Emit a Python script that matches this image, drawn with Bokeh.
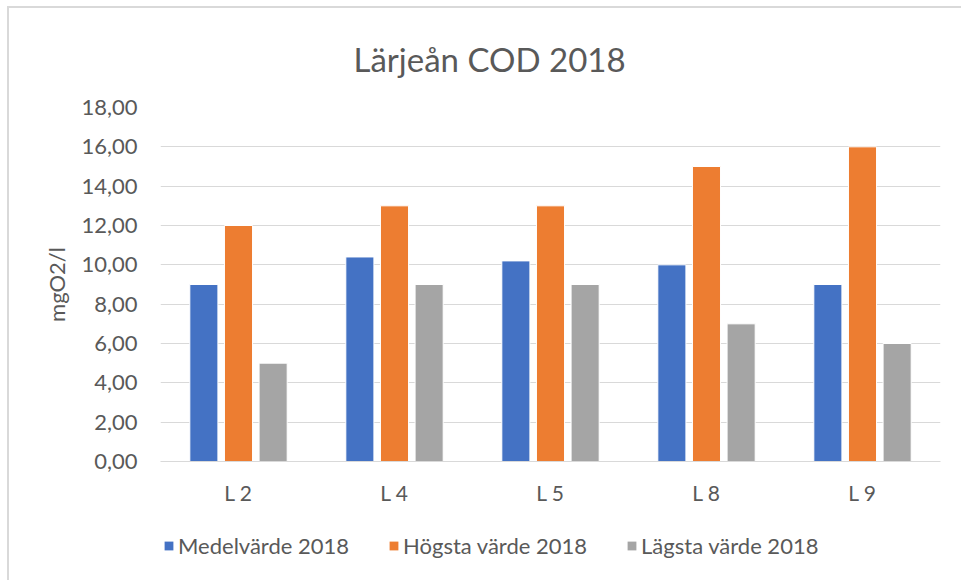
from bokeh.plotting import figure
from bokeh.layouts import column
from bokeh.models import FactorRange, Range1d, Legend, LegendItem, Title, CustomJSTickFormatter, ColumnDataSource
from bokeh.transform import dodge
from bokeh.embed import file_html
from bokeh.resources import INLINE

categories = ["L 2", "L 4", "L 5", "L 8", "L 9"]
medel = [9.0, 10.4, 10.2, 10.0, 9.0]
hogsta = [12.0, 13.0, 13.0, 15.0, 16.0]
lagsta = [5.0, 9.0, 9.0, 7.0, 6.0]
series_names = ["Medelvärde 2018", "Högsta värde 2018", "Lägsta värde 2018"]
colors = ["#4472C4", "#ED7D31", "#A5A5A5"]
title_text = "Lärjeån COD 2018"
y_label = "mgO2/l"

FONT = "Lato"
TXT = "#595959"
BORDER = "#d9d9d9"

src = ColumnDataSource(dict(cat=categories, medel=medel, hogsta=hogsta, lagsta=lagsta))

p = figure(width=961, height=520, x_range=FactorRange(factors=categories),
           y_range=Range1d(0, 18), output_backend="svg", toolbar_location=None,
           min_border_left=160, min_border_right=21, min_border_top=107, min_border_bottom=59)
p.outline_line_color = None
p.border_fill_color = None
p.background_fill_color = "white"
p.styles = {
    "background": f"linear-gradient({BORDER}, {BORDER}) 7px 6px / 2px 100% no-repeat, "
                  f"linear-gradient({BORDER}, {BORDER}) 7px 6px / 100% 2px no-repeat, white"
}

p.title = Title(text=title_text, align="left", offset=193, text_font=FONT,
                text_font_size="33px", text_font_style="normal", text_color=TXT,
                standoff=58)

offsets = [-0.222, 0.0, 0.222]
keys = ["medel", "hogsta", "lagsta"]
for k, off, c in zip(keys, offsets, colors):
    p.vbar(x=dodge("cat", off, range=p.x_range), top=k, width=0.18, source=src,
           fill_color=c, line_color="white", line_width=1)

# axes
p.yaxis.ticker = list(range(0, 19, 2))
p.yaxis.formatter = CustomJSTickFormatter(code="return tick.toFixed(2).replace('.', ',');")
p.yaxis.axis_line_color = None
p.yaxis.major_tick_line_color = None
p.yaxis.minor_tick_line_color = None
p.yaxis.major_tick_in = 0
p.yaxis.major_tick_out = 0
p.yaxis.major_label_standoff = 23
p.yaxis.major_label_text_font = FONT
p.yaxis.major_label_text_font_size = "22px"
p.yaxis.major_label_text_color = TXT
p.yaxis.axis_label = y_label
p.yaxis.axis_label_text_font = FONT
p.yaxis.axis_label_text_font_size = "22px"
p.yaxis.axis_label_text_font_style = "normal"
p.yaxis.axis_label_text_color = TXT
p.yaxis.axis_label_standoff = 8

p.xaxis.axis_line_color = BORDER
p.xaxis.axis_line_width = 1
p.xaxis.major_tick_line_color = None
p.xaxis.minor_tick_line_color = None
p.xaxis.major_tick_in = 0
p.xaxis.major_tick_out = 0
p.xaxis.major_label_standoff = 18
p.xaxis.major_label_text_font = FONT
p.xaxis.major_label_text_font_size = "21px"
p.xaxis.major_label_text_color = TXT

p.xgrid.grid_line_color = None
p.ygrid.grid_line_color = BORDER
p.ygrid.grid_line_width = 1

# legend strip below the chart (swatch renderers sit outside the visible range)
lg = figure(width=961, height=60, x_range=Range1d(0, 1), y_range=Range1d(0, 1),
            x_axis_type=None, y_axis_type=None,
            output_backend="svg", toolbar_location=None,
            min_border_left=0, min_border_right=0, min_border_top=0, min_border_bottom=0)
lg.outline_line_color = None
lg.border_fill_color = None
lg.background_fill_color = None
lg.grid.visible = False
lg.styles = {
    "background": f"linear-gradient({BORDER}, {BORDER}) 7px 0px / 2px 100% no-repeat, white"
}
hidden = ColumnDataSource(dict(x=[-10.0], top=[0.0]))
swatches = [lg.vbar(x="x", top="top", width=0.1, source=hidden, fill_color=c, line_color=None)
            for c in colors]

legend = Legend(items=[LegendItem(label=n, renderers=[r]) for n, r in zip(series_names, swatches)],
                orientation="horizontal", location=(3, 21), glyph_width=11, glyph_height=11,
                label_standoff=4, spacing=39, padding=0, margin=0, border_line_color=None,
                background_fill_alpha=0, label_text_font=FONT, label_text_font_size="22px",
                label_text_color=TXT)
lg.add_layout(legend, "center")

layout = column(p, lg, spacing=0)
open("out.html", "w").write(file_html(layout, INLINE))
